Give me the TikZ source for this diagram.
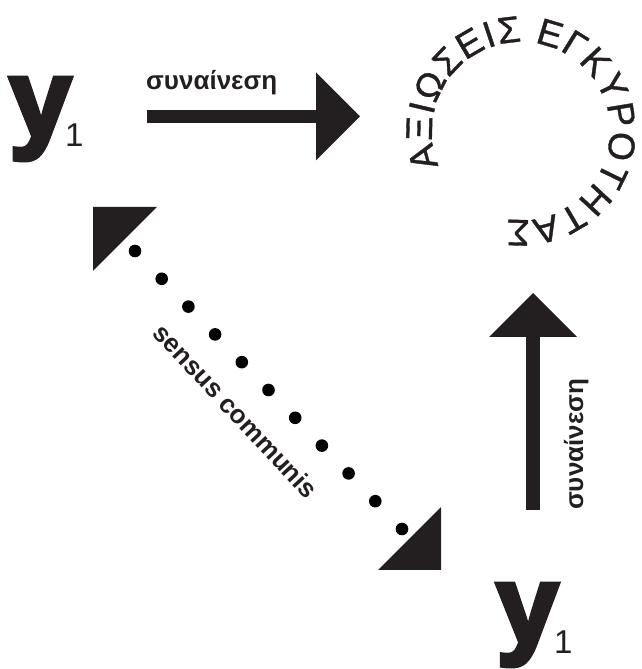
\documentclass[tikz,border=0pt]{standalone}
\usepackage{fontspec}
\setmainfont{Liberation Sans}
\newfontfamily\heavyfont{Liberation Sans Bold}[FakeBold=4]
\newfontfamily\boldgr{Liberation Sans Bold}
\newfontfamily\plainfont{Liberation Sans}
\newfontfamily\ringfont{Liberation Sans}[FakeBold=1]
\usetikzlibrary{arrows.meta,calc,decorations.text}
\definecolor{ink}{HTML}{231F20}
\tikzset{
  bigy/.style={inner sep=0pt, anchor=base west, text=ink, font=\heavyfont\fontsize{112}{112}\selectfont},
  subone/.style={inner sep=0pt, anchor=base west, text=ink, font=\plainfont\fontsize{33}{33}\selectfont},
  lbl/.style={inner sep=0pt, text=ink, font=\boldgr\fontsize{26}{30}\selectfont},
  fatarrow/.style={draw=ink, line width=13.5pt, -{Triangle[length=44pt,width=88pt,line width=0pt,fill=ink]}},
  tri/.style={fill=ink},
  dotmark/.style={fill=black}
}
\begin{document}
\begin{tikzpicture}[x=1pt,y=1pt]
\useasboundingbox (0,0) rectangle (641,669);
% y1 nodes
\node[bigy] (ya) at (9,532) {y};
\node[subone] (sa) at (65,522) {1};
\node[bigy] (yb) at (496,26) {y};
\node[subone] (sb) at (554,16) {1};
% circular text
\coordinate (circ) at (521,538);
\path[decorate, decoration={text along path,
   text={|\ringfont\fontsize{37}{37}\selectfont\color{ink}|ΑΞΙΩΣΕΙΣ ΕΓΚΥΡΟΤΗΤΑΣ},
   text align=fit to path}]
   (circ) ++(203:89) arc[start angle=203, end angle=-99, radius=89];
% horizontal arrow
\coordinate (hs) at (147,552.5);
\coordinate (he) at (360,552.5);
\draw[fatarrow] (hs) -- (he);
\node[lbl, anchor=base west] (lh) at (146,579) {συναίνεση};
% vertical arrow
\coordinate (vs) at (533,159);
\coordinate (ve) at (533,376);
\draw[fatarrow] (vs) -- (ve);
\node[lbl, anchor=base west, rotate=90] (lv) at (583,159) {συναίνεση};
% dotted double arrow
\coordinate (ta) at (93,462);
\coordinate (tb) at (157,462);
\coordinate (tc) at (93,398);
\fill[tri] (ta) -- (tb) -- (tc) -- cycle;
\coordinate (ba) at (441,162);
\coordinate (bb) at (441,99);
\coordinate (bc) at (378,99);
\fill[tri] (ba) -- (bb) -- (bc) -- cycle;
\coordinate (d1) at (135,418);
\coordinate (d2) at (402,140);
\foreach \i in {0,...,10} \fill[dotmark] ($(d1)!\i/10!(d2)$) circle[radius=6.3];
\node[lbl, rotate=-47] (sc) at (236,258) {sensus communis};
\end{tikzpicture}
\end{document}
